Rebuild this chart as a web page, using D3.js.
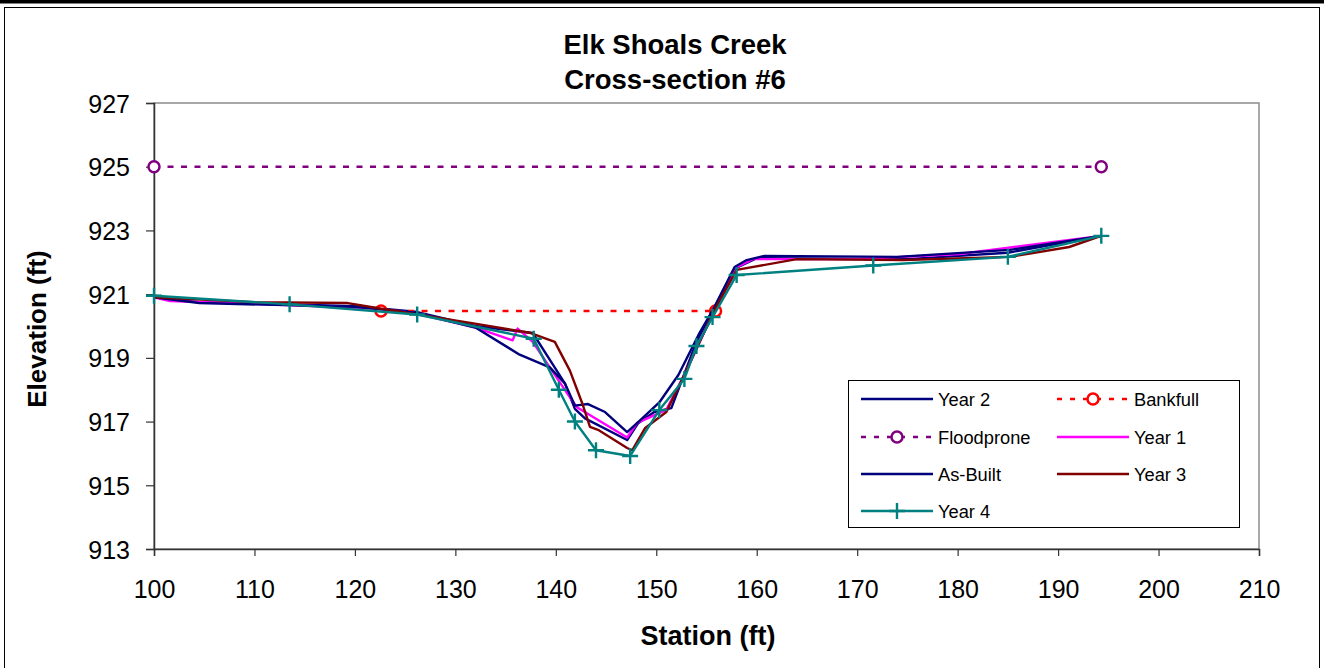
<!DOCTYPE html>
<html>
<head>
<meta charset="utf-8">
<script src="https://cdn.jsdelivr.net/npm/d3@7"></script>
<style>
  body { margin: 0; background: #fff; }
  text { font-family: Arial, "Liberation Sans", sans-serif; }
</style>
</head>
<body>
<div id="chart"></div>
<script>
// cross-section survey data (station ft, elevation ft)
var asBuilt = [[100,920.9],[104.5,920.72],[120,920.6],[126,920.42],[132,919.95],[136.4,919.1],[139.4,918.7],[140.9,918.2],[141.9,917.5],[143.2,917.55],[144.9,917.3],[147.1,916.67],[148.6,917.1],[150.3,917.6],[152.2,918.46],[154.3,919.78],[155.8,920.6],[157.8,921.85],[159,922.07],[160.8,922.2],[174,922.17],[185.2,922.39],[194.3,922.83]];
var year1 = [[100,920.9],[101.6,920.78],[110,920.7],[122,920.55],[126,920.4],[132.1,919.94],[135.7,919.55],[136.2,919.92],[137.7,919.5],[141.1,917.9],[142.1,917.45],[147.1,916.5],[148.1,916.96],[151,917.37],[153,918.6],[155.8,920.5],[158,921.85],[159.6,922.1],[170,922.1],[180.2,922.26],[194.3,922.83]];
var year2 = [[100,920.9],[104.5,920.75],[120,920.62],[126,920.45],[132,920.0],[137.7,919.78],[139.6,918.84],[140.9,918.2],[141.9,917.4],[142.9,917.1],[147.1,916.42],[148.2,916.95],[149.8,917.3],[151.5,917.42],[154,919.5],[157.8,921.8],[160,922.13],[175,922.1],[185,922.3],[194.3,922.83]];
var year3 = [[100,920.9],[110,920.75],[119.3,920.72],[122.5,920.55],[131.5,920.1],[137.5,919.78],[139.9,919.5],[141.4,918.6],[142.6,917.6],[143.4,916.83],[144.2,916.74],[147.1,916.17],[147.6,916.1],[148.9,916.8],[151,917.3],[153,918.6],[155.8,920.5],[158,921.76],[164,922.1],[174.6,922.07],[185.2,922.17],[191.1,922.48],[194.3,922.83]];
var year4 = [[100,920.95],[113.5,920.68],[126.2,920.36],[137.8,919.6],[140.3,918.0],[141.9,917.0],[144.0,916.1],[147.4,915.92],[150.3,917.36],[152.8,918.34],[154.0,919.37],[155.6,920.28],[158.0,921.6],[171.6,921.9],[185.0,922.17],[194.3,922.83]];
var bankfull = [[122.6,920.47],[155.9,920.47]];
var floodprone = [[100,925],[194.3,925]];

var xTicks = [100,110,120,130,140,150,160,170,180,190,200,210];
var yTicks = [913,915,917,919,921,923,925,927];

var W = 1324, H = 668;
var svg = d3.select("#chart").append("svg").attr("width",W).attr("height",H);

// outer frame
svg.append("rect").attr("x",0).attr("y",0).attr("width",W).attr("height",3.5).attr("fill","#000");
svg.append("rect").attr("x",4.5).attr("y",7.5).attr("width",1315).attr("height",680)
   .attr("fill","none").attr("stroke","#000").attr("stroke-width",1);

var x = d3.scaleLinear().domain([100,210]).range([154,1259]);
var y = d3.scaleLinear().domain([913,927]).range([549,103]);

// plot area border (gray top/right)
svg.append("rect").attr("x",154).attr("y",103).attr("width",1105).attr("height",446)
   .attr("fill","none").attr("stroke","#8c8c8c").attr("stroke-width",1.5);

var xAxis = svg.append("g").attr("transform","translate(0,549)")
   .call(d3.axisBottom(x).tickValues(xTicks).tickSize(7).tickPadding(24).tickFormat(d3.format("d")));
var yAxis = svg.append("g").attr("transform","translate(154,0)")
   .call(d3.axisLeft(y).tickValues(yTicks).tickSize(8).tickPadding(16).tickFormat(d3.format("d")));
[xAxis,yAxis].forEach(function(a){
  a.select(".domain").attr("stroke","#333").attr("stroke-width",1.5);
  a.selectAll(".tick line").attr("stroke","#333").attr("stroke-width",1.2);
  a.selectAll(".tick text").attr("font-size","25px").attr("fill","#000")
   .attr("font-family","Arial, 'Liberation Sans', sans-serif");
});
yAxis.selectAll(".tick text").attr("dy","0.36em");

// titles
svg.append("text").attr("x",675).attr("y",54).attr("text-anchor","middle")
   .attr("font-size","27.5px").attr("font-weight","bold").text("Elk Shoals Creek");
svg.append("text").attr("x",675).attr("y",89).attr("text-anchor","middle")
   .attr("font-size","27.5px").attr("font-weight","bold").text("Cross-section #6");
svg.append("text").attr("x",708).attr("y",645).attr("text-anchor","middle")
   .attr("font-size","27px").attr("font-weight","bold").text("Station (ft)");
svg.append("text").attr("transform","translate(46,329) rotate(-90)").attr("text-anchor","middle")
   .attr("font-size","26px").attr("font-weight","bold").text("Elevation (ft)");

var line = d3.line().x(function(d){return x(d[0]);}).y(function(d){return y(d[1]);});

var series = [
  {name:"Year 2", data:year2, color:"#000080"},
  {name:"Bankfull", data:bankfull, color:"#ff0000", dash:"6,7.5", marker:"circle"},
  {name:"Floodprone", data:floodprone, color:"#800080", dash:"6,7.5", marker:"circle"},
  {name:"Year 1", data:year1, color:"#ff00ff"},
  {name:"As-Built", data:asBuilt, color:"#00007a"},
  {name:"Year 3", data:year3, color:"#800000"},
  {name:"Year 4", data:year4, color:"#008080", marker:"plus"}
];

function drawMarker(g, type, cx, cy, color){
  if(type==="circle"){
    g.append("circle").attr("cx",cx).attr("cy",cy).attr("r",5.5)
     .attr("fill","#fff").attr("stroke",color).attr("stroke-width",2.5);
  } else if(type==="plus"){
    g.append("path").attr("d","M"+(cx-8)+","+cy+"H"+(cx+8)+"M"+cx+","+(cy-8)+"V"+(cy+8))
     .attr("stroke",color).attr("stroke-width",2.4).attr("fill","none");
  }
}

var plot = svg.append("g");
series.forEach(function(s){
  plot.append("path").datum(s.data).attr("d",line).attr("fill","none")
    .attr("stroke",s.color).attr("stroke-width",2.4)
    .attr("stroke-dasharray",s.dash||null).attr("stroke-linejoin","round");
  if(s.marker){
    s.data.forEach(function(d){ drawMarker(plot,s.marker,x(d[0]),y(d[1]),s.color); });
  }
});

// legend
var lg = svg.append("g");
lg.append("rect").attr("x",848.5).attr("y",380.5).attr("width",391).attr("height",147)
  .attr("fill","#fff").attr("stroke","#000").attr("stroke-width",1);
var rowY = [399,437,474,511];
var colX = [861,1057];
series.forEach(function(s,i){
  var lx = colX[i%2], ly = rowY[Math.floor(i/2)];
  lg.append("line").attr("x1",lx).attr("x2",lx+72).attr("y1",ly).attr("y2",ly)
    .attr("stroke",s.color).attr("stroke-width",2.4).attr("stroke-dasharray",s.dash?"5,8":null);
  if(s.marker) drawMarker(lg,s.marker,lx+36,ly,s.color);
  lg.append("text").attr("x",lx+77).attr("y",ly+6.5).attr("font-size","18.3px").text(s.name);
});
</script>
</body>
</html>
